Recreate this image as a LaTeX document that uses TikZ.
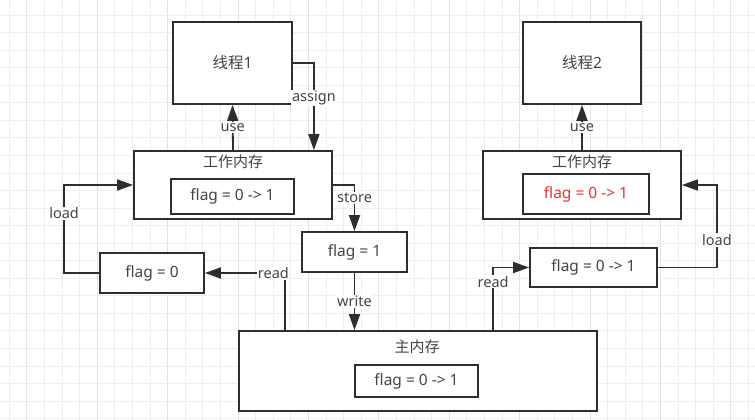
\documentclass[tikz,border=0pt]{standalone}
\usepackage{fontspec}
\setmainfont{Noto Sans}
\newfontfamily\cjk{Noto Sans CJK SC}
\usetikzlibrary{arrows.meta,calc}
\definecolor{ink}{HTML}{2E2E2E}
\definecolor{txt}{HTML}{444444}
\definecolor{gridminor}{HTML}{EEEEEE}
\definecolor{gridmajor}{HTML}{E2E2E2}
\definecolor{hot}{HTML}{E8312F}
\begin{document}
\begin{tikzpicture}[x=1pt,y=-1pt,
  box/.style={draw=ink,line width=1.8pt,fill=white,inner sep=0pt,text=txt,font=\fontsize{15.5}{18}\selectfont},
  title/.style={text=txt,font=\cjk\fontsize{15}{18}\selectfont},
  lbl/.style={fill=white,inner sep=1pt,text=txt,font=\fontsize{14.5}{16}\selectfont},
  arr/.style={draw=ink,line width=1.8pt,-{Triangle[length=16pt,width=11pt]}}]
\useasboundingbox (0,0) rectangle (755,420);
\fill[white] (0,0) rectangle (755,420);
\foreach \i in {0,...,42} {
  \pgfmathsetmacro\gx{9.3+17.6*\i}
  \ifnum\numexpr\i-4*(\i/4)\relax=1 \draw[gridmajor,line width=0.9pt] (\gx,0) -- (\gx,420);
  \else \draw[gridminor,line width=0.9pt] (\gx,0) -- (\gx,420); \fi
}
\foreach \j in {0,...,23} {
  \pgfmathsetmacro\gy{15+17.55*\j}
  \draw[gridminor,line width=0.9pt] (0,\gy) -- (755,\gy);
}
\node[box,minimum width=119pt,minimum height=82pt] (t1) at (232.5,63) {{\cjk 线程}1};
\node[box,minimum width=198pt,minimum height=68pt] (wm1) at (233,185) {};
\node[title] (wm1t) at (233,162) {工作内存};
\node[box,minimum width=123pt,minimum height=35pt] (f1) at (232.5,196.5) {flag = 0 -> 1};
\node[box,minimum width=118pt,minimum height=82pt] (t2) at (582,63) {{\cjk 线程}2};
\node[box,minimum width=198pt,minimum height=68pt] (wm2) at (582,185) {};
\node[title] (wm2t) at (582,162) {工作内存};
\node[box,minimum width=126pt,minimum height=40pt,text=hot] (f2) at (586,194) {flag = 0 -> 1};
\node[box,minimum width=105pt,minimum height=40pt] (fs) at (354.5,252) {flag = 1};
\node[box,minimum width=104pt,minimum height=40pt] (f0) at (152,273) {flag = 0};
\node[box,minimum width=127pt,minimum height=39pt] (fr) at (593.5,267.5) {flag = 0 -> 1};
\node[box,minimum width=358pt,minimum height=80pt] (mm) at (418,371) {};
\node[title] (mmt) at (417,347) {主内存};
\node[box,minimum width=123pt,minimum height=32pt] (fm) at (416.5,381) {flag = 0 -> 1};
\draw[arr] (wm1.north) -- node[lbl]{use} (t1.south);
\draw[arr] (t1.east) -| node[lbl,pos=0.7]{assign} ($(wm1.north east)+(-19,0)$);
\draw[arr] (wm1.east) -| node[lbl,pos=0.64]{store} (fs.north);
\draw[arr] (fs.south) -- node[lbl]{write} (fs.south |- mm.north);
\draw[arr] ($(mm.north west)+(47,0)$) |- node[lbl,pos=0.573]{read} (f0.east);
\draw[arr] (f0.west) -| node[lbl,pos=0.84]{load} ($(wm1.west)+(-69,0)$) -- (wm1.west);
\draw[arr] (wm2.north) -- node[lbl]{use} (t2.south);
\draw[arr] (fr.east) -| node[lbl,pos=0.667]{load} ($(wm2.east)+(35,0)$) -- (wm2.east);
\draw[arr] ($(mm.north west)+(255,0)$) |- node[lbl,pos=0.385]{read} (fr.west);
\end{tikzpicture}
\end{document}
